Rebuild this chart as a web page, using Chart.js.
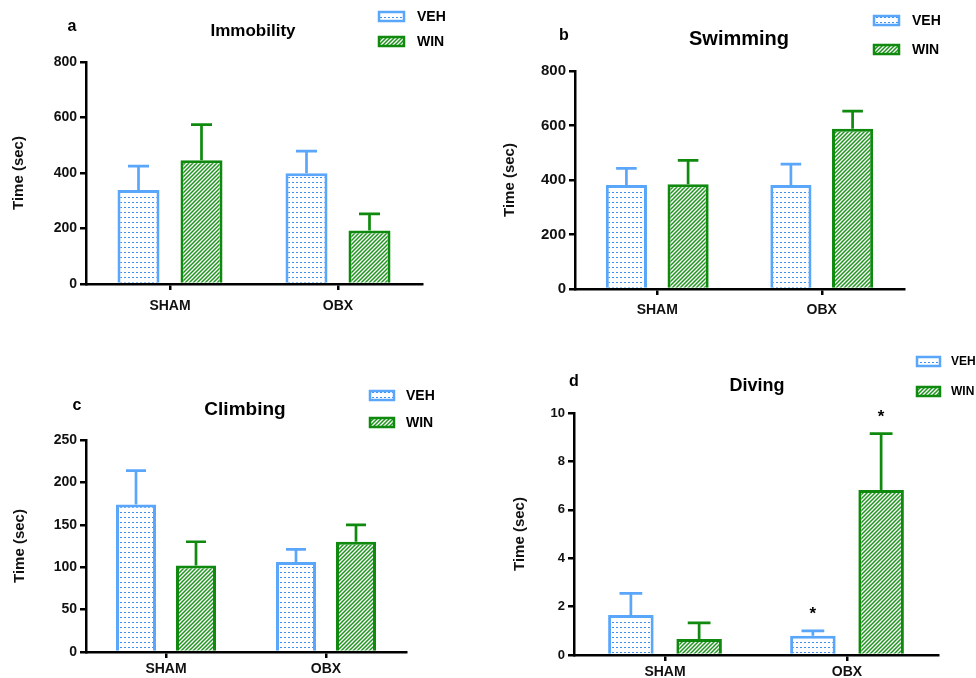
<!DOCTYPE html>
<html lang="en">
<head>
<meta charset="UTF-8">
<title>Forced swim test - OBX / WIN</title>
<script src="https://cdn.jsdelivr.net/npm/chart.js"></script>
<style>
  body { margin: 0; background: #fff; }
  #wrap { position: relative; width: 976px; height: 678px; }
  #wrap canvas { position: absolute; left: 0; top: 0; }
</style>
</head>
<body>
<div id="wrap">
  <canvas id="immobility" width="976" height="678"></canvas>
  <canvas id="swimming" width="976" height="678"></canvas>
  <canvas id="climbing" width="976" height="678"></canvas>
  <canvas id="diving" width="976" height="678"></canvas>
</div>
<script>
// groups and series
const groups = ['SHAM', 'OBX'];
const seriesNames = ['VEH', 'WIN'];

// a - Immobility (mean, SEM)
const immobilityVeh = [339, 399];
const immobilityVehErr = [86, 80];
const immobilityWin = [446, 193];
const immobilityWinErr = [128, 60];
const immobilityTicks = [0, 200, 400, 600, 800];

// b - Swimming
const swimmingVeh = [382, 382];
const swimmingVehErr = [61, 76];
const swimmingWin = [384, 588];
const swimmingWinErr = [88, 65];
const swimmingTicks = [0, 200, 400, 600, 800];

// c - Climbing
const climbingVeh = [174, 106];
const climbingVehErr = [40, 15];
const climbingWin = [102, 130];
const climbingWinErr = [28, 20];
const climbingTicks = [0, 50, 100, 150, 200, 250];

// d - Diving
const divingVeh = [1.65, 0.80];
const divingVehErr = [0.9, 0.2];
const divingWin = [0.66, 6.82];
const divingWinErr = [0.67, 2.33];
const divingVehStars = ['', '*'];
const divingWinStars = ['', '*'];
const divingTicks = [0, 2, 4, 6, 8, 10];

const FONT = '"Liberation Sans", Arial, Helvetica, sans-serif';
const BLUE = '#5aa6fa';
const GREEN = '#0f8a0f';

// fill patterns: dotted rows for VEH, diagonal hatch for WIN
function dotPattern(color) {
    const c = document.createElement('canvas');
    c.width = 4; c.height = 5;
    const g = c.getContext('2d');
    g.fillStyle = '#fff';
    g.fillRect(0, 0, 4, 5);
    g.fillStyle = color;
    g.fillRect(0, 2, 2, 1);
    return g.createPattern(c, 'repeat');
}
function hatchPattern(color) {
    const c = document.createElement('canvas');
    c.width = 4; c.height = 4;
    const g = c.getContext('2d');
    g.fillStyle = '#fff';
    g.fillRect(0, 0, 4, 4);
    g.strokeStyle = color;
    g.lineWidth = 1.5;
    g.beginPath();
    g.moveTo(0, 4); g.lineTo(4, 0);
    g.moveTo(-1, 1); g.lineTo(1, -1);
    g.moveTo(3, 5); g.lineTo(5, 3);
    g.stroke();
    return g.createPattern(c, 'repeat');
}
const vehFill = dotPattern('#3d8ff0');
const winFill = hatchPattern('#1f941f');

// one-sided error bars (+SEM) and significance stars
const errorBars = {
    id: 'errorBars',
    afterDatasetsDraw(chart) {
        const ctx = chart.ctx;
        const yScale = chart.scales.y;
        chart.data.datasets.forEach((ds, i) => {
            const meta = chart.getDatasetMeta(i);
            meta.data.forEach((bar, j) => {
                const top = yScale.getPixelForValue(ds.data[j] + ds.errors[j]);
                const half = bar.width / 4;
                ctx.save();
                ctx.strokeStyle = ds.borderColor;
                ctx.lineWidth = 2.7;
                ctx.beginPath();
                ctx.moveTo(bar.x, bar.y);
                ctx.lineTo(bar.x, top);
                ctx.moveTo(bar.x - half, top);
                ctx.lineTo(bar.x + half, top);
                ctx.stroke();
                if (ds.stars && ds.stars[j]) {
                    ctx.fillStyle = '#000';
                    ctx.font = 'bold 17px ' + FONT;
                    ctx.textAlign = 'center';
                    ctx.textBaseline = 'alphabetic';
                    ctx.fillText(ds.stars[j], bar.x, top - 12);
                }
                ctx.restore();
            });
        });
    }
};

// panel letter, title and the small legend in the top right
const panelDecor = {
    id: 'panelDecor',
    afterDraw(chart, args, o) {
        const ctx = chart.ctx;
        ctx.save();
        ctx.fillStyle = '#000';
        ctx.textBaseline = 'middle';
        ctx.textAlign = 'center';
        ctx.font = 'bold ' + o.titleSize + 'px ' + FONT;
        ctx.fillText(o.title, o.titleX, o.titleY);
        ctx.font = 'bold 16px ' + FONT;
        ctx.fillText(o.letter, o.letterX, o.letterY);
        chart.data.datasets.forEach((ds, i) => {
            const y = o.legendY + i * o.legendGap;
            ctx.fillStyle = ds.backgroundColor;
            ctx.fillRect(o.legendX, y, o.swW, 9);
            ctx.strokeStyle = ds.borderColor;
            ctx.lineWidth = 2.5;
            ctx.strokeRect(o.legendX, y, o.swW, 9);
            ctx.fillStyle = '#000';
            ctx.textAlign = 'left';
            ctx.font = 'bold ' + o.legendSize + 'px ' + FONT;
            ctx.fillText(ds.label, o.legendX + o.textGap, y + 5);
        });
        ctx.restore();
    }
};

function makePanel(p) {
    const yWidth = p.area.l - (p.yTitleX - 9);
    const xHeight = 40;
    new Chart(document.getElementById(p.id), {
        type: 'bar',
        data: {
            labels: groups,
            datasets: [
                { label: seriesNames[0], data: p.veh, errors: p.vehErr, stars: p.vehStars,
                  backgroundColor: vehFill, borderColor: BLUE, borderWidth: 3 },
                { label: seriesNames[1], data: p.win, errors: p.winErr, stars: p.winStars,
                  backgroundColor: winFill, borderColor: GREEN, borderWidth: 3 }
            ]
        },
        options: {
            responsive: false,
            animation: false,
            events: [],
            categoryPercentage: 0.75,
            barPercentage: 0.667,
            layout: {
                padding: {
                    left: p.yTitleX - 9,
                    top: p.area.t,
                    right: 976 - p.area.r,
                    bottom: 678 - p.area.b - xHeight
                }
            },
            plugins: {
                legend: { display: false },
                title: { display: false },
                tooltip: { enabled: false },
                panelDecor: p.decor
            },
            scales: {
                x: {
                    z: 1,
                    afterFit(s) { s.height = xHeight; },
                    border: { display: true, color: '#000', width: 2.5 },
                    grid: { offset: false, drawOnChartArea: false, drawTicks: true, tickLength: 6, color: '#000', lineWidth: 2.5 },
                    ticks: { color: '#111', padding: p.xPad, font: { family: FONT, size: 14, weight: 'bold' } }
                },
                y: {
                    min: p.ticks[0],
                    max: p.ticks[p.ticks.length - 1],
                    afterFit(s) { s.width = yWidth; },
                    afterBuildTicks(s) { s.ticks = p.ticks.map(v => ({ value: v })); },
                    border: { display: true, color: '#000', width: 2.5 },
                    grid: { drawOnChartArea: false, drawTicks: true, tickLength: 6, color: '#000', lineWidth: 2.5 },
                    ticks: { color: '#111', padding: 3, font: { family: FONT, size: p.tickSize, weight: 'bold' } },
                    title: { display: true, text: 'Time (sec)', color: '#111', padding: 0,
                             font: { family: FONT, size: 15, weight: 'bold' } }
                }
            }
        },
        plugins: [errorBars, panelDecor]
    });
}

makePanel({
    id: 'immobility', veh: immobilityVeh, vehErr: immobilityVehErr, win: immobilityWin, winErr: immobilityWinErr,
    ticks: immobilityTicks, area: { l: 86, r: 422, t: 62, b: 284 }, yTitleX: 19, xPad: 8, tickSize: 14,
    decor: { letter: 'a', letterX: 72, letterY: 27, title: 'Immobility', titleX: 253, titleY: 31, titleSize: 17,
             legendX: 379, legendY: 12, legendGap: 25, swW: 25, textGap: 38, legendSize: 14 }
});
makePanel({
    id: 'swimming', veh: swimmingVeh, vehErr: swimmingVehErr, win: swimmingWin, winErr: swimmingWinErr,
    ticks: swimmingTicks, area: { l: 575, r: 904, t: 71, b: 289 }, yTitleX: 510, xPad: 7, tickSize: 15,
    decor: { letter: 'b', letterX: 564, letterY: 36, title: 'Swimming', titleX: 739, titleY: 39, titleSize: 20,
             legendX: 874, legendY: 16, legendGap: 29, swW: 25, textGap: 38, legendSize: 14 }
});
makePanel({
    id: 'climbing', veh: climbingVeh, vehErr: climbingVehErr, win: climbingWin, winErr: climbingWinErr,
    ticks: climbingTicks, area: { l: 86, r: 406, t: 440, b: 652 }, yTitleX: 20, xPad: 3, tickSize: 14,
    decor: { letter: 'c', letterX: 77, letterY: 406, title: 'Climbing', titleX: 245, titleY: 410, titleSize: 19,
             legendX: 370, legendY: 391, legendGap: 27, swW: 24, textGap: 36, legendSize: 14 }
});
makePanel({
    id: 'diving', veh: divingVeh, vehErr: divingVehErr, win: divingWin, winErr: divingWinErr,
    vehStars: divingVehStars, winStars: divingWinStars,
    ticks: divingTicks, area: { l: 574, r: 938, t: 413, b: 655 }, yTitleX: 520, xPad: 3, tickSize: 13,
    decor: { letter: 'd', letterX: 574, letterY: 382, title: 'Diving', titleX: 757, titleY: 386, titleSize: 18,
             legendX: 917, legendY: 357, legendGap: 30, swW: 23, textGap: 34, legendSize: 12 }
});
</script>
</body>
</html>
